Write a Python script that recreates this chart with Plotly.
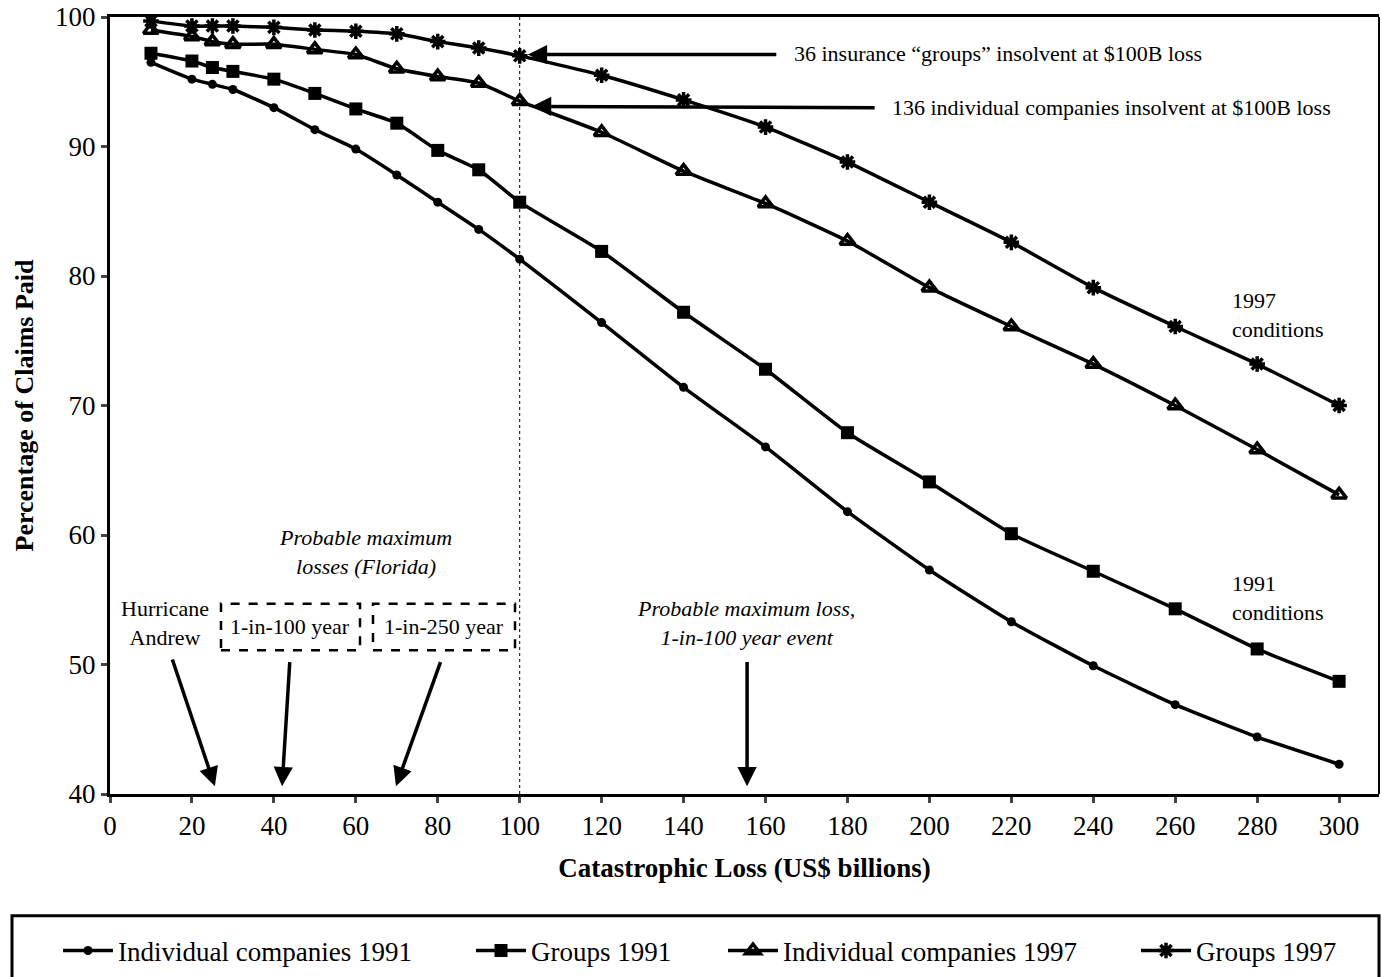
import plotly.graph_objects as go

loss = [10, 20, 25, 30, 40, 50, 60, 70, 80, 90, 100, 120, 140, 160, 180, 200, 220, 240, 260, 280, 300]
ind_1991 = [96.5, 95.2, 94.8, 94.4, 93.0, 91.3, 89.8, 87.8, 85.7, 83.6, 81.3, 76.4, 71.4, 66.8, 61.8, 57.3, 53.3, 49.9, 46.9, 44.4, 42.3]
grp_1991 = [97.2, 96.6, 96.1, 95.8, 95.2, 94.1, 92.9, 91.8, 89.7, 88.2, 85.7, 81.9, 77.2, 72.8, 67.9, 64.1, 60.1, 57.2, 54.3, 51.2, 48.7]
ind_1997 = [99.0, 98.5, 98.1, 97.9, 97.9, 97.5, 97.1, 96.0, 95.4, 94.9, 93.5, 91.1, 88.1, 85.6, 82.7, 79.1, 76.1, 73.2, 70.0, 66.6, 63.1]
grp_1997 = [99.7, 99.3, 99.3, 99.3, 99.2, 99.0, 98.9, 98.7, 98.1, 97.6, 97.0, 95.5, 93.6, 91.5, 88.8, 85.7, 82.6, 79.1, 76.1, 73.2, 70.0]

series_names = ["Individual companies 1991", "Groups 1991", "Individual companies 1997", "Groups 1997"]
x_ticks = list(range(0, 301, 20))
y_ticks = [40, 50, 60, 70, 80, 90, 100]

FONT = "Times New Roman, Liberation Serif, serif"

fig = go.Figure()
specs = [
    (ind_1991, dict(symbol="circle", size=9, color="black"), "legend"),
    (grp_1991, dict(symbol="square", size=13, color="black"), "legend2"),
    (ind_1997, dict(symbol="triangle-up-open", size=13, color="black", line=dict(width=3.5, color="black")), "legend3"),
    (grp_1997, dict(symbol="asterisk-open", size=13, color="black", line=dict(width=3.5, color="black")), "legend4"),
]
for name, (vals, mk, lg) in zip(series_names, specs):
    fig.add_trace(go.Scatter(
        x=loss, y=vals, name=name, mode="lines+markers",
        line=dict(color="black", width=3.5, shape="spline", smoothing=0.5),
        marker=mk, legend=lg,
    ))

W0, W1, H0, H1 = 110, 1379, 795, 17
XSCALE = 4.097
def px(p):
    return (p - W0) / (W1 - W0)
def py(p):
    return (H0 - p) / (H0 - H1)
def dx(p):
    return (p - W0) / XSCALE

leg_common = dict(orientation="h", yanchor="middle", xanchor="left", y=py(951),
                  bgcolor="rgba(0,0,0,0)", font=dict(family=FONT, size=27, color="black"),
                  itemwidth=50)
fig.update_layout(
    width=1382, height=977,
    margin=dict(l=W0, r=1382 - W1, t=H1, b=977 - H0),
    paper_bgcolor="white", plot_bgcolor="white",
    font=dict(family=FONT, color="black", size=27),
    legend=dict(x=px(58), **leg_common),
    legend2=dict(x=px(471), **leg_common),
    legend3=dict(x=px(723), **leg_common),
    legend4=dict(x=px(1136), **leg_common),
    xaxis=dict(range=[0, (W1 - W0) / XSCALE], tickvals=x_ticks, ticks="outside", ticklen=6, tickwidth=3,
               showline=True, linewidth=3, linecolor="black", mirror=True, showgrid=False, zeroline=False,
               tickfont=dict(family=FONT, size=27),
               title=dict(text="<b>Catastrophic Loss (US$ billions)</b>", font=dict(family=FONT, size=27), standoff=18)),
    yaxis=dict(range=[40, 100], tickvals=y_ticks, ticks="outside", ticklen=6, tickwidth=3,
               showline=True, linewidth=3, linecolor="black", showgrid=False, zeroline=False,
               tickfont=dict(family=FONT, size=27),
               title=dict(text="<b>Percentage of Claims Paid</b>", font=dict(family=FONT, size=26), standoff=14)),
    showlegend=True,
)

# right frame line
fig.add_shape(type="line", xref="paper", yref="paper", x0=1, x1=1, y0=0, y1=1, line=dict(color="black", width=2))
# vertical dotted line at 100
fig.add_shape(type="line", xref="x", yref="paper", x0=100, x1=100, y0=0, y1=1, line=dict(color="black", width=1, dash="dot"))
# legend box
fig.add_shape(type="rect", xref="paper", yref="paper", x0=px(12), x1=1, y0=py(1000), y1=py(917),
              line=dict(color="black", width=3), fillcolor="rgba(0,0,0,0)")

# dashed boxes
fig.add_shape(type="rect", xref="x", yref="y", x0=dx(221), x1=dx(360), y0=51.1, y1=54.7,
              line=dict(color="black", width=2.5, dash="dash"))
fig.add_shape(type="rect", xref="x", yref="y", x0=dx(373), x1=dx(515), y0=51.1, y1=54.7,
              line=dict(color="black", width=2.5, dash="dash"))

def arrow(x, y, ax, ay):
    fig.add_annotation(x=x, y=y, ax=ax, ay=ay, xref="x", yref="y", axref="x", ayref="y",
                       text="", showarrow=True, arrowhead=2, arrowsize=1.1, arrowwidth=3.5, arrowcolor="black")

arrow(102, 97.1, 163, 97.1)
arrow(103, 93.1, 187, 93.0)
arrow(25.6, 40.6, 15.1, 50.5)
arrow(42.0, 40.6, 43.9, 50.3)
arrow(69.8, 40.6, 80.8, 50.3)
arrow(155.5, 40.6, 155.5, 50.3)

def text(x, y, t, align="center", xanchor="center", italic=False, size=22):
    if italic:
        t = "<i>" + t + "</i>"
    fig.add_annotation(x=x, y=y, xref="x", yref="y", text=t, showarrow=False, align=align,
                       xanchor=xanchor, yanchor="middle", font=dict(family=FONT, size=size, color="black"))

text(dx(792), 97.2, "36 insurance “groups” insolvent at $100B loss", xanchor="left")
text(dx(890), 93.0, "136 individual companies insolvent at $100B loss", xanchor="left")
text(dx(165), 53.2, "Hurricane<br>Andrew")
text(dx(290), 52.9, "1-in-100 year")
text(dx(444), 52.9, "1-in-250 year")
text(dx(365), 58.7, "Probable maximum<br>losses (Florida)", italic=True)
text(dx(746), 53.2, "Probable maximum loss,<br>1-in-100 year event", italic=True)
text(dx(1230), 77.0, "1997<br>conditions", align="left", xanchor="left")
text(dx(1230), 55.1, "1991<br>conditions", align="left", xanchor="left")

fig.write_html("out.html", config={"displayModeBar": False},
               post_script="document.body.style.margin='0';document.body.style.overflow='hidden';")
